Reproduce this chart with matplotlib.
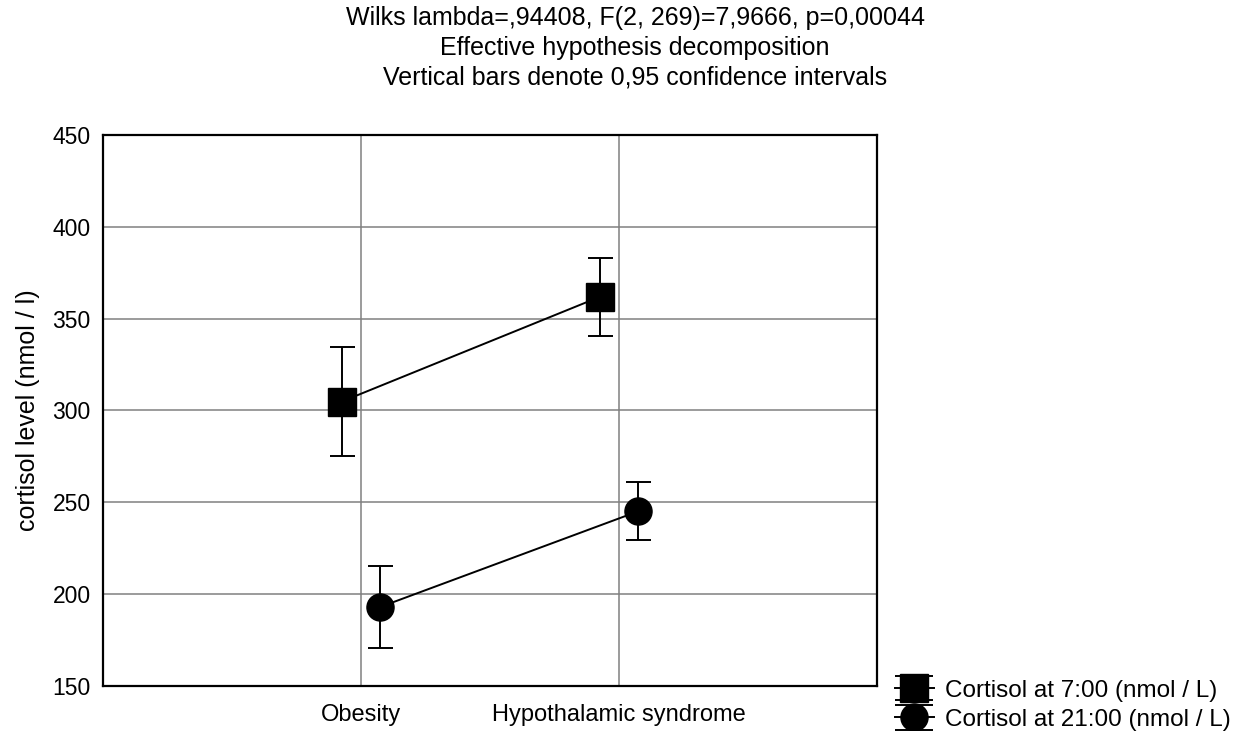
import numpy as np
import matplotlib
matplotlib.use("Agg")
import matplotlib.pyplot as plt
from matplotlib.container import ErrorbarContainer
from matplotlib.legend_handler import HandlerErrorbar
from matplotlib.lines import Line2D

# ==========================================
# DATA
# ==========================================

categories = ["Obesity", "Hypothalamic syndrome"]

morning_mean = [304.9, 361.9]
morning_low = [275.4, 340.5]
morning_high = [334.6, 382.8]

evening_mean = [193.0, 245.1]
evening_low = [170.8, 229.4]
evening_high = [215.3, 261.0]

series_labels = ["Cortisol at 7:00 (nmol / L)", "Cortisol at 21:00 (nmol / L)"]

title_lines = [
    "Wilks lambda=,94408, F(2, 269)=7,9666, p=0,00044",
    "Effective hypothesis decomposition",
    "Vertical bars denote 0,95 confidence intervals",
]

y_ticks = [150, 200, 250, 300, 350, 400, 450]

# ==========================================
# PLOT
# ==========================================

plt.rcParams["font.family"] = ["Liberation Sans", "DejaVu Sans"]

W, H = 1238, 731

fig = plt.figure(figsize=(W / 100, H / 100), dpi=100)
ax = fig.add_axes([103 / W, 1 - 686 / H, 774 / W, 551 / H])

x = np.arange(1, len(categories) + 1)
offset = 0.074

def draw(xs, mean, low, high, marker, label):
    mean = np.array(mean)
    yerr = [mean - np.array(low), np.array(high) - mean]
    return ax.errorbar(
        xs, mean, yerr=yerr,
        fmt="-", marker=marker, color="black",
        markersize=19.5, linewidth=1.4,
        elinewidth=1.4, capsize=9, capthick=1.4,
        label=label, zorder=3,
    )

h1 = draw(x - offset, morning_mean, morning_low, morning_high, "s", series_labels[0])
h2 = draw(x + offset, evening_mean, evening_low, evening_high, "o", series_labels[1])

ax.set_xlim(0, len(categories) + 1)
ax.set_ylim(150, 450)
ax.set_xticks(x)
ax.set_xticklabels(categories, fontsize=17)
ax.set_yticks(y_ticks)
ax.tick_params(axis="y", labelsize=16.5, length=0, pad=9)
ax.tick_params(axis="x", length=0, pad=13)

ax.grid(True, color="#808080", linewidth=1.1)
ax.set_axisbelow(True)

for s in ax.spines.values():
    s.set_linewidth(1.6)
    s.set_color("black")

ax.set_ylabel("cortisol level (nmol / l)", fontsize=18, labelpad=9)

# three title lines, centred over the whole figure area
for i, line in enumerate(title_lines):
    fig.text(
        635 / W, 1 - (18 + 30 * i) / H, line,
        ha="center", va="center", fontsize=18,
    )

# ==========================================
# LEGEND (wide caps like the original)
# ==========================================

class WideCapHandler(HandlerErrorbar):

    def create_artists(self, legend, orig_handle, xdescent, ydescent,
                       width, height, fontsize, trans):
        artists = super().create_artists(
            legend, orig_handle, xdescent, ydescent,
            width, height, fontsize, trans
        )
        for a in artists:
            if isinstance(a, Line2D) and a.get_marker() == "_":
                a.set_markersize(27)
        return artists

fig.legend(
    handles=[h1, h2],
    loc="lower left",
    bbox_to_anchor=(895 / W, 0 / H),
    borderaxespad=0,
    borderpad=0,
    frameon=False,
    fontsize=17.5,
    handlelength=1.6,
    handletextpad=0.45,
    labelspacing=0.3,
    handler_map={ErrorbarContainer: WideCapHandler()},
)

fig.savefig("out.png", dpi=100)
